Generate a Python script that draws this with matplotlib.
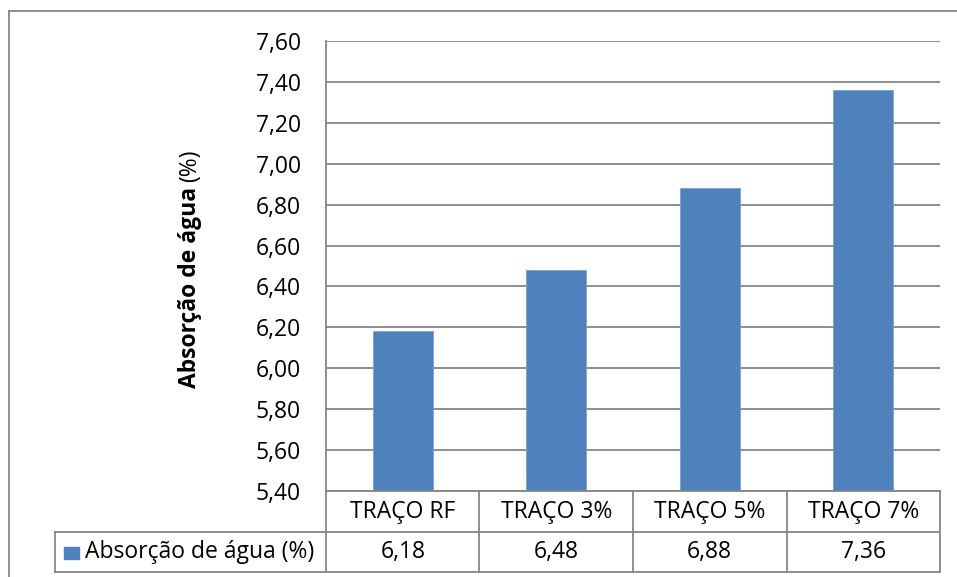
import matplotlib
matplotlib.use("Agg")
import matplotlib.pyplot as plt
from matplotlib.lines import Line2D
from matplotlib.patches import Rectangle

categories = ["TRAÇO RF", "TRAÇO 3%", "TRAÇO 5%", "TRAÇO 7%"]
values = [6.18, 6.48, 6.88, 7.36]
value_labels = ["6,18", "6,48", "6,88", "7,36"]
series_name = "Absorção de água (%)"
axis_title_main = "Absorção de água"
axis_title_unit = "(%)"
y_ticks = [5.40, 5.60, 5.80, 6.00, 6.20, 6.40, 6.60, 6.80, 7.00, 7.20, 7.40, 7.60]

W, H = 957, 577
BAR = "#4F81BD"
GRID = "#868686"
FONT = ["Open Sans", "DejaVu Sans"]
FS = 16.5

plt.rcParams["font.family"] = FONT

fig = plt.figure(figsize=(W / 100, H / 100), dpi=100)

def fx(px):
    return px / W

def fy(py):
    return 1 - py / H

left, right, top, bottom = 326, 940, 41, 491
ax = fig.add_axes([fx(left), fy(bottom), fx(right) - fx(left), fy(top) - fy(bottom)])

x = list(range(len(categories)))
ax.bar(x, values, width=0.39, color=BAR, edgecolor="#7CA0D0", linewidth=0.6, zorder=3)
ax.set_xlim(-0.5, len(categories) - 0.5)
ax.set_ylim(y_ticks[0], y_ticks[-1])
ax.set_yticks(y_ticks)
ax.set_yticklabels([f"{t:.2f}".replace(".", ",") for t in y_ticks], fontsize=FS)
ax.tick_params(axis="y", length=0, pad=18)
ax.set_xticks([])
ax.yaxis.grid(True, color=GRID, linewidth=1.3)
ax.set_axisbelow(True)
for s in ["top", "right", "bottom"]:
    ax.spines[s].set_visible(False)
ax.spines["left"].set_color(GRID)
ax.spines["left"].set_linewidth(1.3)

# vertical axis title: bold name followed by the regular-weight unit
fig.text(fx(196), fy(388), axis_title_main, rotation=90, rotation_mode="anchor",
         ha="left", va="baseline", fontsize=FS, fontweight="bold")
fig.text(fx(196), fy(150), axis_title_unit, rotation=90, rotation_mode="anchor",
         ha="right", va="baseline", fontsize=FS)

# data table below the plot area
def fline(x0, y0, x1, y1):
    fig.add_artist(Line2D([fx(x0), fx(x1)], [fy(y0), fy(y1)], color=GRID, linewidth=1.3))

row1, row2 = 532, 572
tbl_left = 55
col_edges = [left + i * (right - left) / len(categories) for i in range(len(categories) + 1)]
fline(left, bottom, right, bottom)
fline(tbl_left, row1, right, row1)
fline(tbl_left, row2, right, row2)
fline(tbl_left, row1, tbl_left, row2)
for ce in col_edges:
    fline(ce, bottom, ce, row2)

for i, (c, v) in enumerate(zip(categories, value_labels)):
    cx = (col_edges[i] + col_edges[i + 1]) / 2
    fig.text(fx(cx), fy((bottom + row1) / 2), c, ha="center", va="center", fontsize=FS)
    fig.text(fx(cx), fy((row1 + row2) / 2), v, ha="center", va="center", fontsize=FS)

fig.add_artist(Rectangle((fx(64), fy(559)), fx(15), 12 / H, color=BAR))
fig.text(fx(85), fy((row1 + row2) / 2), series_name, ha="left", va="center", fontsize=FS)

# chart frame
fline(9, 11, W, 11)
fline(9, 11, 9, H)

fig.savefig("out.png", dpi=100)
